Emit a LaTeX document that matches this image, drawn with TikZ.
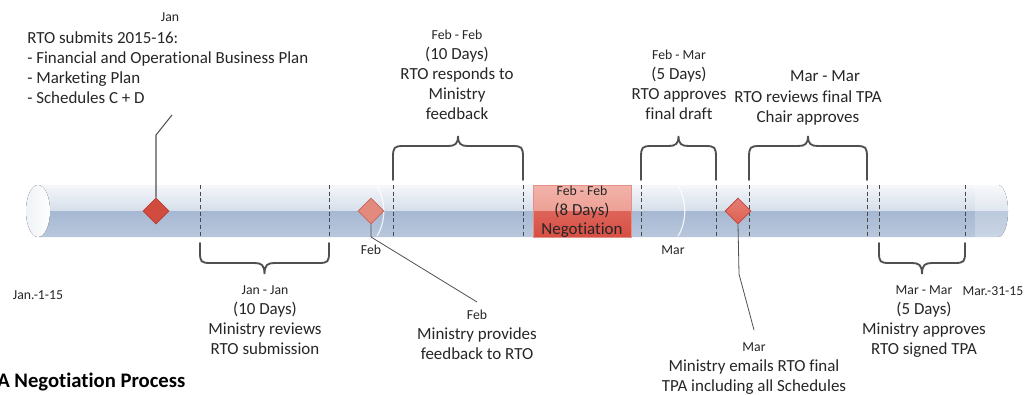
\documentclass[tikz,border=0pt]{standalone}
\usepackage{fontspec}
\setmainfont{Carlito}[Ligatures=CommonOff]
\usetikzlibrary{shapes.geometric}
\definecolor{txt}{HTML}{262626}
\definecolor{lineg}{HTML}{505050}
\definecolor{cylA}{HTML}{F5F7FA}
\definecolor{cylB}{HTML}{D5DEEA}
\definecolor{cylC}{HTML}{A6B8D2}
\definecolor{cylD}{HTML}{B8C7DC}
\definecolor{negA}{HTML}{F2B3AA}
\definecolor{negB}{HTML}{EDA095}
\definecolor{negC}{HTML}{DE6459}
\definecolor{negD}{HTML}{D64E44}
\definecolor{negE}{HTML}{E49285}
\definecolor{dmA}{HTML}{D24B3F}
\definecolor{dmAb}{HTML}{BC3D33}
\definecolor{dmB}{HTML}{E38A7E}
\definecolor{dmBb}{HTML}{C8655B}
\definecolor{dmC}{HTML}{DE5F52}
\definecolor{dmCb}{HTML}{C2473D}
\newcommand{\tlUpBrace}[2]{%
  \pgfmathsetmacro{\bxc}{(#1+#2)/2}%
  \draw[bracestyle] (#1,180) -- (#1,158) .. controls (#1,147) and ({#1+1},146) .. ({#1+11},146)
    -- ({\bxc-10},146) .. controls ({\bxc-3},146) and (\bxc,144) .. (\bxc,136)
    .. controls (\bxc,144) and ({\bxc+3},146) .. ({\bxc+10},146)
    -- ({#2-11},146) .. controls ({#2-1},146) and (#2,147) .. (#2,158) -- (#2,180);}
\newcommand{\tlDownBrace}[2]{%
  \pgfmathsetmacro{\bxc}{(#1+#2)/2}%
  \draw[bracestyle] (#1,243) -- (#1,252) .. controls (#1,262) and ({#1+1},263) .. ({#1+11},263)
    -- ({\bxc-10},263) .. controls ({\bxc-3},263) and (\bxc,265) .. (\bxc,274)
    .. controls (\bxc,265) and ({\bxc+3},263) .. ({\bxc+10},263)
    -- ({#2-11},263) .. controls ({#2-1},263) and (#2,262) .. (#2,252) -- (#2,243);}
\newcommand{\smtxt}{\fontsize{10.3}{15}\selectfont}
\begin{document}
\begin{tikzpicture}[x=0.75pt,y=-0.75pt,
  big/.style={font=\fontsize{12.7}{15}\selectfont, text=txt, inner sep=0pt},
  sm/.style={font=\smtxt, text=txt, inner sep=0pt},
  bracestyle/.style={draw=lineg, line width=1.4pt, line cap=round},
  leader/.style={draw=lineg, line width=0.8pt},
  tick/.style={draw=lineg!90!black, line width=0.6pt, dash pattern=on 3pt off 2pt},
  marker/.style={diamond, inner sep=0pt, minimum width=19.5pt, minimum height=19.5pt, line width=0.6pt}]
\useasboundingbox (0,0) rectangle (1031,394);
\fill[white] (0,0) rectangle (1031,394);

% cylinder
\begin{scope}
  \clip (38,185) -- (998,185) .. controls (1003.5,185) and (1008,196.6) .. (1008,211)
     .. controls (1008,225.4) and (1003.5,237) .. (998,237) -- (38,237) -- cycle;
  \fill[top color=cylA, bottom color=cylB] (30,185) rectangle (1012,211);
  \fill[top color=cylC, bottom color=cylD] (30,211) rectangle (1012,237);
  \fill[white, opacity=0.25] (975,185) rectangle (1012,237);
\end{scope}
\fill[left color=cylB!40, right color=white] (38,211) ellipse [x radius=12, y radius=26];
\draw[white, line width=0.9pt, opacity=0.8] (377,186) .. controls (386,200) and (386,222) .. (377,236);
\draw[white, line width=0.9pt, opacity=0.8] (678,186) .. controls (687,200) and (687,222) .. (678,236);

% negotiation box
\fill[top color=negA, bottom color=negB] (533,185) rectangle (631,211);
\fill[top color=negC, bottom color=negD] (533,211) rectangle (631,237);
\node[draw=negE, line width=0.5pt, minimum width=73.5pt, minimum height=39pt, inner sep=0pt] (negbox) at (582,211) {};
\node[big, anchor=north, align=center, font=\fontsize{12.7}{14.5}\selectfont] (tNeg) at (582,186)
  {{\fontsize{10.3}{14.5}\selectfont Feb - Feb}\\(8 Days)\\Negotiation};

% dashed ticks
\foreach \xx in {200,329,393,523,641,716,749,867,879,965}
  \draw[tick] (\xx,185) -- (\xx,237);

% braces
\tlDownBrace{200}{329}
\tlUpBrace{393}{523}
\tlUpBrace{641}{716}
\tlUpBrace{749}{867}
\tlDownBrace{879}{965}

% markers
\node[marker, fill=dmA, draw=dmAb] (dJan) at (156,211) {};
\node[marker, fill=dmB, draw=dmBb] (dFeb) at (371,211) {};
\node[marker, top color=dmC!80!white, bottom color=dmC, draw=dmCb] (dMar) at (738,211) {};

% leaders
\coordinate (cJ1) at (156,135);
\coordinate (cJ2) at (172,115);
\draw[leader] (dJan.north) -- (cJ1) -- (cJ2);
\coordinate (cF1) at (371,237);
\coordinate (cF2) at (477,302);
\draw[leader, line width=0.6pt] (dFeb.south) -- (cF1) -- (cF2);
\coordinate (cM1) at (739,274);
\coordinate (cM2) at (754,330);
\draw[leader, line width=0.6pt] (dMar.south) -- (cM1) -- (cM2);

% texts
\node[sm, anchor=north] (tJan) at (170,12) {Jan};
\node[big, anchor=north west, align=left] (tRTO) at (27,31)
  {RTO submits 2015-16:\\- Financial and Operational Business Plan\\- Marketing Plan\\- Schedules C + D};
\node[big, anchor=north, align=center] (tFF) at (457,30)
  {{\smtxt Feb - Feb}\\(10 Days)\\RTO responds to\\Ministry\\feedback};
\node[big, anchor=north, align=center] (tFM) at (679,50)
  {{\smtxt Feb - Mar}\\(5 Days)\\RTO approves\\final draft};
\node[big, anchor=north] (tMMa) at (825,70) {Mar - Mar};
\node[big, anchor=north, align=center] (tMMb) at (808,90) {RTO reviews final TPA\\Chair approves};
\node[big, anchor=north, align=center] (tJJ) at (265,285)
  {{\smtxt Jan - Jan}\\(10 Days)\\Ministry reviews\\RTO submission};
\node[big, anchor=north, align=center] (tFebB) at (477,310)
  {{\smtxt Feb}\\Ministry provides\\feedback to RTO};
\node[big, anchor=north, align=center] (tMarB) at (754,342)
  {{\smtxt Mar}\\Ministry emails RTO final\\TPA including all Schedules};
\node[big, anchor=north, align=center] (tMM2) at (924,285)
  {{\smtxt Mar - Mar}\\(5 Days)\\Ministry approves\\RTO signed TPA};
\node[sm, anchor=north] (tJan15) at (38,290) {Jan.-1-15};
\node[sm, anchor=north] (tMar31) at (993,286) {Mar.-31-15};
\node[sm, anchor=north] (tFebL) at (371,245) {Feb};
\node[sm, anchor=north] (tMarL) at (673,245) {Mar};
\node[anchor=base west, inner sep=0pt, font=\bfseries\fontsize{15.5}{18}\selectfont, text=black] (title) at (-3,387) {A Negotiation Process};
\end{tikzpicture}
\end{document}
